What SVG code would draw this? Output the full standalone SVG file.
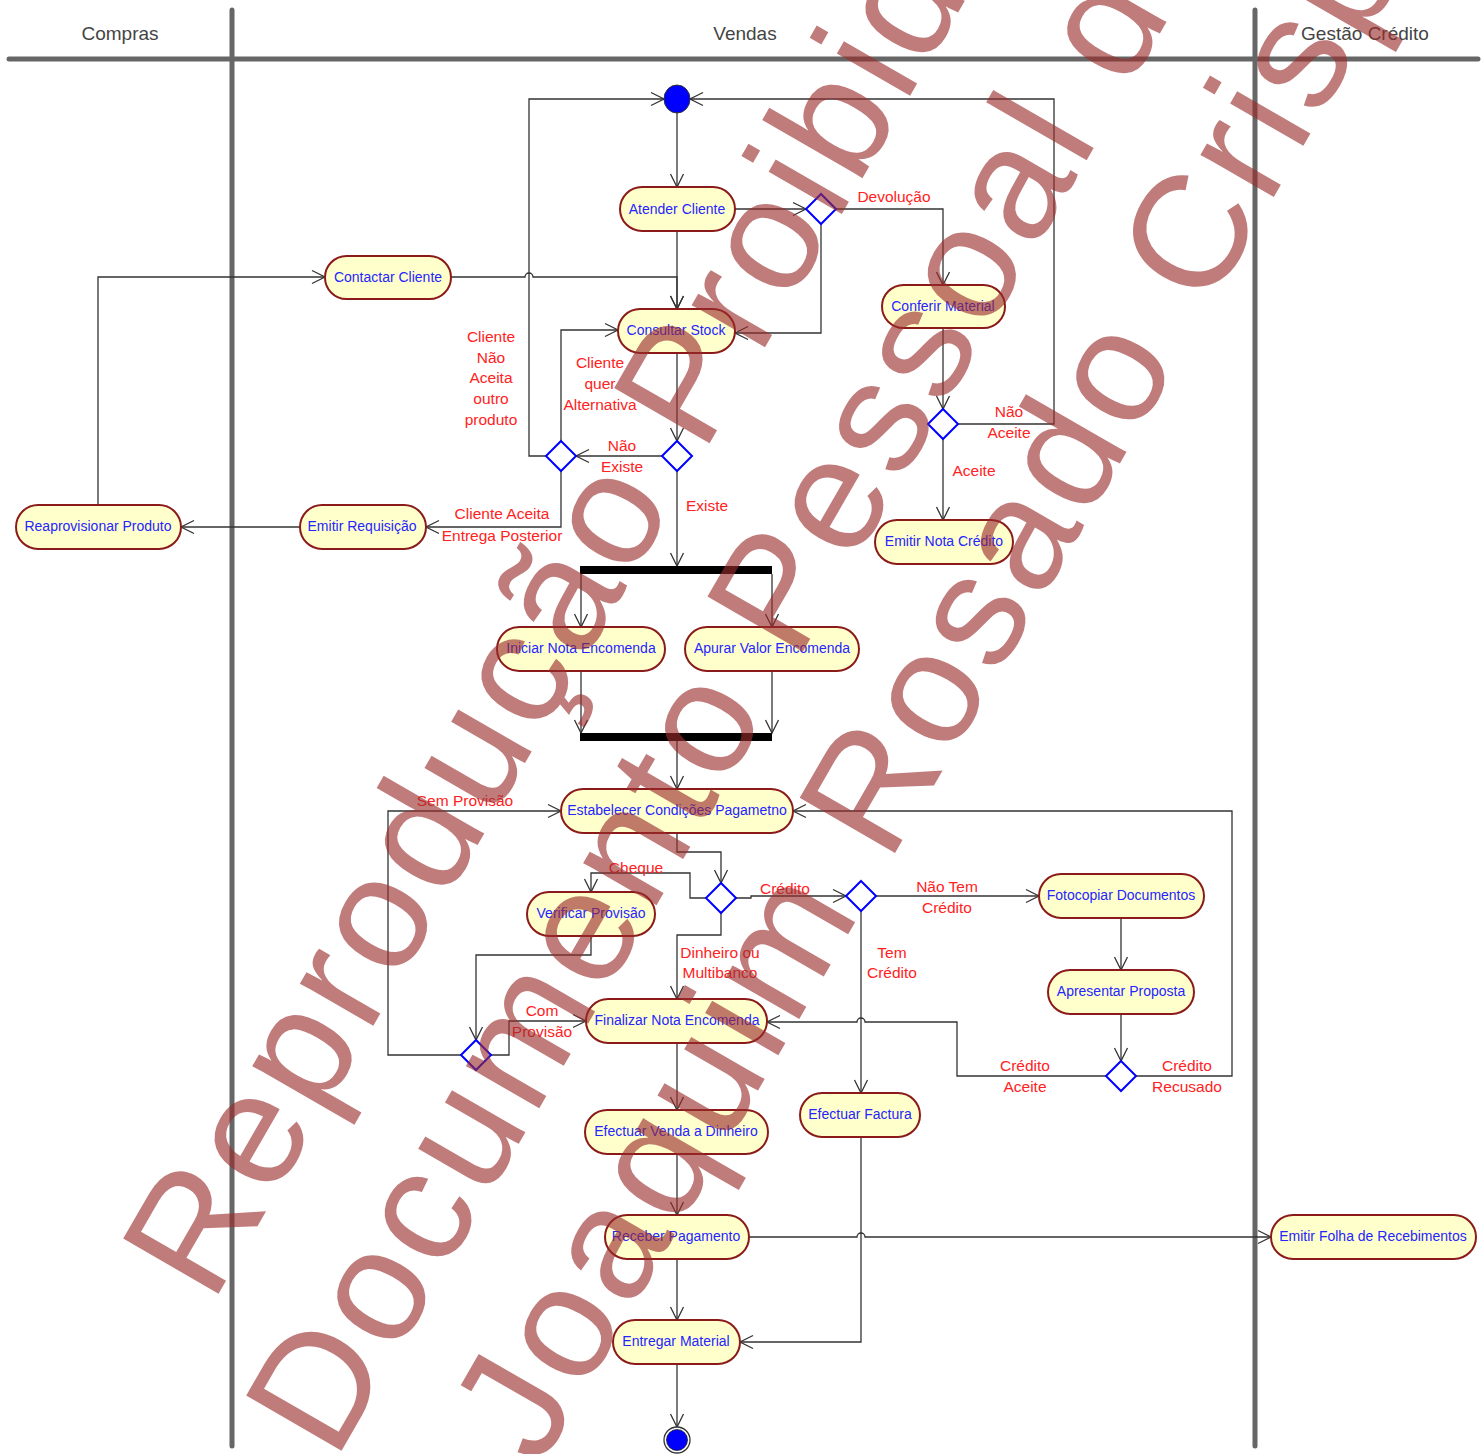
<svg xmlns="http://www.w3.org/2000/svg" width="1484" height="1454" viewBox="0 0 1484 1454">
  <style>
    .lane { stroke: #666; stroke-width: 5; stroke-linecap: round; fill: none; }
    .lanetitle { font-family: "Liberation Sans", Arial, sans-serif; font-size: 19px; fill: #444; text-anchor: middle; }
    .act { fill: #ffffcc; stroke: #8b1a1a; stroke-width: 2; }
    .actlabel { font-family: "Liberation Sans", Arial, sans-serif; font-size: 14px; fill: #2525ff; text-anchor: middle; }
    .dec { fill: #ffffff; stroke: #0000ff; stroke-width: 2; }
    .bar { fill: #000; }
    .flow { fill: none; stroke: #333; stroke-width: 1.3; marker-end: url(#open); }
    .guard { font-family: "Liberation Sans", Arial, sans-serif; font-size: 15.5px; fill: #ff2222; text-anchor: middle; }
    .wm { font-family: "Liberation Sans", Arial, sans-serif; font-size: 160px; letter-spacing: 6px; fill: #9b2c2c; opacity: 0.62; }
  </style>
  <defs>
    <marker id="open" viewBox="0 0 14 14" refX="13" refY="7" markerWidth="14" markerHeight="14" markerUnits="userSpaceOnUse" orient="auto" overflow="visible">
      <path d="M0,0.5 L13,7 L0,13.5" fill="none" stroke="#333" stroke-width="1.3"/>
    </marker>
  </defs>
  <rect x="0" y="0" width="1484" height="1454" fill="#ffffff"/>

  <!-- swimlanes -->
  <g id="lanes">
    <line class="lane" x1="9" y1="59" x2="1478" y2="59"/>
    <line class="lane" x1="232" y1="10" x2="232" y2="1446"/>
    <line class="lane" x1="1255" y1="10" x2="1255" y2="1446"/>
    <text class="lanetitle" x="120" y="40">Compras</text>
    <text class="lanetitle" x="745" y="40">Vendas</text>
    <text class="lanetitle" x="1365" y="40">Gestão Crédito</text>
  </g>

  <!-- control flows -->
  <g id="connectors">
    <path class="flow" d="M677,113 V187"/>
    <path class="flow" d="M735,209 H806"/>
    <path class="flow" d="M836,209 H943 V285"/>
    <path class="flow" d="M821,224 V333 H735"/>
    <path class="flow" d="M677,231 V309"/>
    <path class="flow" d="M451,277 H525 a4,4 0 0 1 8,0 H677 V309"/>
    <path class="flow" d="M98,505 V277 H325"/>
    <path class="flow" d="M677,353 V441"/>
    <path class="flow" d="M662,456 H576"/>
    <path class="flow" d="M677,471 V566"/>
    <path class="flow" d="M561,441 V330 H618"/>
    <path class="flow" d="M546,456 H529 V99 H664"/>
    <path class="flow" d="M561,471 V527 H426"/>
    <path class="flow" d="M300,527 H181"/>
    <path class="flow" d="M958,424 H1054 V99 H690"/>
    <path class="flow" d="M943,328 V409"/>
    <path class="flow" d="M943,439 V520"/>
    <path class="flow" d="M581,574 V627"/>
    <path class="flow" d="M772,574 V627"/>
    <path class="flow" d="M581,671 V733"/>
    <path class="flow" d="M772,671 V733"/>
    <path class="flow" d="M677,740 V789"/>
    <path class="flow" d="M677,833 V852 H721 V883"/>
    <path class="flow" d="M706,898 H690 V873 H591 V892"/>
    <path class="flow" d="M736,898 H751 V896 H846"/>
    <path class="flow" d="M721,913 V935 H677 V999"/>
    <path class="flow" d="M591,936 V955 H476 V1040"/>
    <path class="flow" d="M491,1055 H509 V1021 H586"/>
    <path class="flow" d="M461,1055 H388 V811 H561"/>
    <path class="flow" d="M876,896 H1039"/>
    <path class="flow" d="M861,911 V1093"/>
    <path class="flow" d="M1121,918 V970"/>
    <path class="flow" d="M1121,1014 V1061"/>
    <path class="flow" d="M1106,1076 H957 V1022 H865 a4,4 0 0 0 -8,0 H767"/>
    <path class="flow" d="M1136,1076 H1232 V811 H793"/>
    <path class="flow" d="M677,1043 V1110"/>
    <path class="flow" d="M677,1154 V1215"/>
    <path class="flow" d="M749,1237 H857 a4,4 0 0 1 8,0 H1271"/>
    <path class="flow" d="M861,1137 V1342 H740"/>
    <path class="flow" d="M677,1259 V1320"/>
    <path class="flow" d="M677,1364 V1427"/>
  </g>

  <!-- guard labels -->
  <g id="guards">
    <text class="guard" x="894" y="202">Devolução</text>
    <text class="guard" x="491" y="342">Cliente</text>
    <text class="guard" x="491" y="363">Não</text>
    <text class="guard" x="491" y="383">Aceita</text>
    <text class="guard" x="491" y="404">outro</text>
    <text class="guard" x="491" y="425">produto</text>
    <text class="guard" x="600" y="368">Cliente</text>
    <text class="guard" x="600" y="389">quer</text>
    <text class="guard" x="600" y="410">Alternativa</text>
    <text class="guard" x="622" y="451">Não</text>
    <text class="guard" x="622" y="472">Existe</text>
    <text class="guard" x="707" y="511">Existe</text>
    <text class="guard" x="1009" y="417">Não</text>
    <text class="guard" x="1009" y="438">Aceite</text>
    <text class="guard" x="974" y="476">Aceite</text>
    <text class="guard" x="502" y="519">Cliente Aceita</text>
    <text class="guard" x="502" y="541">Entrega Posterior</text>
    <text class="guard" x="465" y="806">Sem Provisão</text>
    <text class="guard" x="636" y="873">Cheque</text>
    <text class="guard" x="785" y="894">Crédito</text>
    <text class="guard" x="947" y="892">Não Tem</text>
    <text class="guard" x="947" y="913">Crédito</text>
    <text class="guard" x="720" y="958">Dinheiro ou</text>
    <text class="guard" x="720" y="978">Multibanco</text>
    <text class="guard" x="892" y="958">Tem</text>
    <text class="guard" x="892" y="978">Crédito</text>
    <text class="guard" x="542" y="1016">Com</text>
    <text class="guard" x="542" y="1037">Provisão</text>
    <text class="guard" x="1025" y="1071">Crédito</text>
    <text class="guard" x="1025" y="1092">Aceite</text>
    <text class="guard" x="1187" y="1071">Crédito</text>
    <text class="guard" x="1187" y="1092">Recusado</text>
  </g>

  <!-- initial and final nodes -->
  <g id="start"><ellipse cx="677" cy="99" rx="13" ry="14" fill="#0000ff" stroke="#333" stroke-width="1"/></g>
  <g id="end">
    <circle cx="677" cy="1440" r="13" fill="#fff" stroke="#333" stroke-width="1.3"/>
    <circle cx="677" cy="1440" r="10.5" fill="#0000ff" stroke="#222" stroke-width="0.8"/>
  </g>

  <!-- fork / join bars -->
  <g id="fork"><rect class="bar" x="580" y="566" width="192" height="8"/></g>
  <g id="join"><rect class="bar" x="580" y="733" width="192" height="8"/></g>

  <!-- decisions -->
  <g id="dec-devolucao"><polygon class="dec" points="821,194 836,209 821,224 806,209"/></g>
  <g id="dec-aceite"><polygon class="dec" points="943,409 958,424 943,439 928,424"/></g>
  <g id="dec-stock"><polygon class="dec" points="677,441 692,456 677,471 662,456"/></g>
  <g id="dec-alternativa"><polygon class="dec" points="561,441 576,456 561,471 546,456"/></g>
  <g id="dec-pagamento"><polygon class="dec" points="721,883 736,898 721,913 706,898"/></g>
  <g id="dec-credito"><polygon class="dec" points="861,881 876,896 861,911 846,896"/></g>
  <g id="dec-proposta"><polygon class="dec" points="1121,1061 1136,1076 1121,1091 1106,1076"/></g>
  <g id="dec-provisao"><polygon class="dec" points="476,1040 491,1055 476,1070 461,1055"/></g>

  <!-- activities -->
  <g id="atender-cliente"><rect class="act" x="620" y="187" width="115" height="44" rx="22"/><text class="actlabel" x="677" y="214">Atender Cliente</text></g>
  <g id="contactar-cliente"><rect class="act" x="325" y="256" width="126" height="43" rx="21.5"/><text class="actlabel" x="388" y="282">Contactar Cliente</text></g>
  <g id="consultar-stock"><rect class="act" x="618" y="309" width="117" height="44" rx="22"/><text class="actlabel" x="676" y="335">Consultar Stock</text></g>
  <g id="conferir-material"><rect class="act" x="882" y="285" width="123" height="43" rx="21.5"/><text class="actlabel" x="943" y="311">Conferir Material</text></g>
  <g id="emitir-nota-credito"><rect class="act" x="875" y="520" width="138" height="44" rx="22"/><text class="actlabel" x="944" y="546">Emitir Nota Crédito</text></g>
  <g id="emitir-requisicao"><rect class="act" x="300" y="505" width="126" height="44" rx="22"/><text class="actlabel" x="362" y="531">Emitir Requisição</text></g>
  <g id="reaprovisionar-produto"><rect class="act" x="16" y="505" width="165" height="44" rx="22"/><text class="actlabel" x="98" y="531">Reaprovisionar Produto</text></g>
  <g id="iniciar-nota-encomenda"><rect class="act" x="497" y="627" width="168" height="44" rx="22"/><text class="actlabel" x="581" y="653">Iniciar Nota Encomenda</text></g>
  <g id="apurar-valor-encomenda"><rect class="act" x="685" y="627" width="174" height="44" rx="22"/><text class="actlabel" x="772" y="653">Apurar Valor Encomenda</text></g>
  <g id="estabelecer-condicoes"><rect class="act" x="561" y="789" width="232" height="44" rx="22"/><text class="actlabel" x="677" y="815">Estabelecer Condições Pagametno</text></g>
  <g id="verificar-provisao"><rect class="act" x="527" y="892" width="128" height="44" rx="22"/><text class="actlabel" x="591" y="918">Verificar Provisão</text></g>
  <g id="fotocopiar-documentos"><rect class="act" x="1039" y="874" width="165" height="44" rx="22"/><text class="actlabel" x="1121" y="900">Fotocopiar Documentos</text></g>
  <g id="apresentar-proposta"><rect class="act" x="1048" y="970" width="146" height="44" rx="22"/><text class="actlabel" x="1121" y="996">Apresentar Proposta</text></g>
  <g id="finalizar-nota-encomenda"><rect class="act" x="586" y="999" width="181" height="44" rx="22"/><text class="actlabel" x="677" y="1025">Finalizar Nota Encomenda</text></g>
  <g id="efectuar-factura"><rect class="act" x="800" y="1093" width="120" height="44" rx="22"/><text class="actlabel" x="860" y="1119">Efectuar Factura</text></g>
  <g id="efectuar-venda"><rect class="act" x="585" y="1110" width="183" height="44" rx="22"/><text class="actlabel" x="676" y="1136">Efectuar Venda a Dinheiro</text></g>
  <g id="receber-pagamento"><rect class="act" x="605" y="1215" width="144" height="44" rx="22"/><text class="actlabel" x="676" y="1241">Receber Pagamento</text></g>
  <g id="emitir-folha-recebimentos"><rect class="act" x="1271" y="1215" width="205" height="44" rx="22"/><text class="actlabel" x="1373" y="1241">Emitir Folha de Recebimentos</text></g>
  <g id="entregar-material"><rect class="act" x="613" y="1320" width="127" height="44" rx="22"/><text class="actlabel" x="676" y="1346">Entregar Material</text></g>

  <!-- diagonal watermark -->
  <g id="watermark">
    <text class="wm" transform="translate(212,1305) rotate(-60)">Reprodução Proibida</text>
    <text class="wm" transform="translate(335,1462) rotate(-60)">Documento Pessoal de</text>
    <text class="wm" transform="translate(540,1468) rotate(-60)">Joaquim Rosado Crisp</text>
  </g>
</svg>
